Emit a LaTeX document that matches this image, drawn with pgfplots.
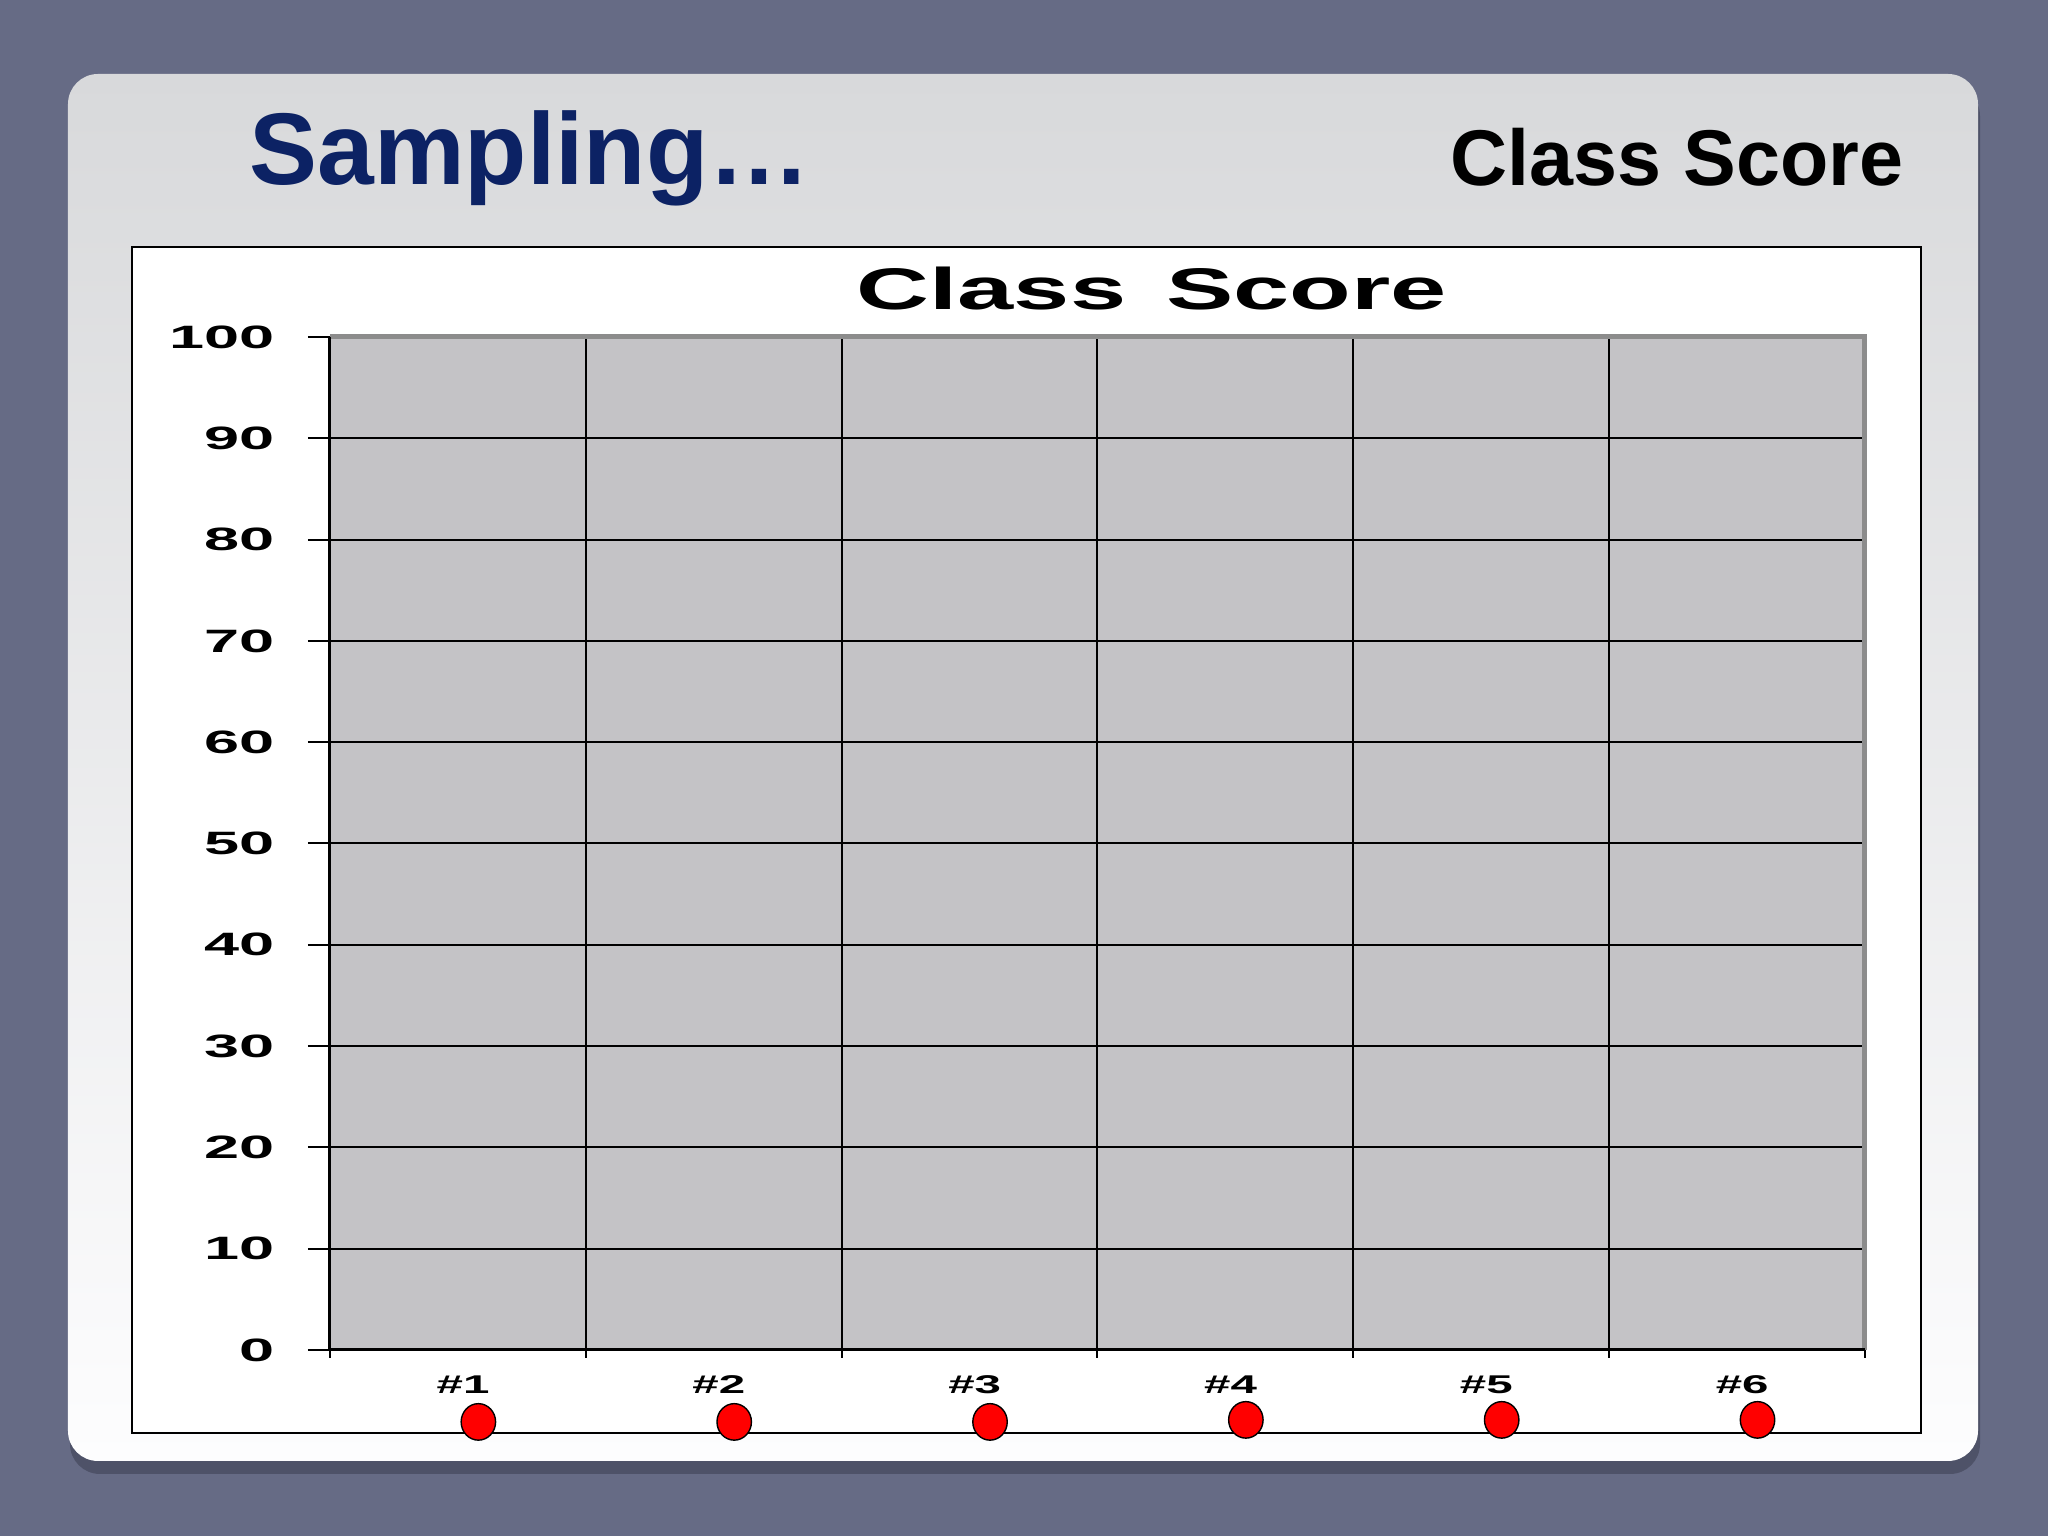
\documentclass[border=0pt]{standalone}
\usepackage{fontspec}
\setmainfont{Liberation Sans}
\usepackage{pgfplots}
\pgfplotsset{compat=1.18}
\definecolor{bgcol}{HTML}{666B85}
\definecolor{shadowcol}{HTML}{4E5268}
\definecolor{paneltop}{HTML}{D8D9DB}
\definecolor{panelbot}{HTML}{FDFDFE}
\definecolor{navy}{HTML}{0C2264}
\definecolor{plotgray}{HTML}{C4C3C6}
\definecolor{bordergray}{HTML}{8C8C8C}
\begin{document}
\begin{tikzpicture}[x=1cm,y=1cm]
\fill[bgcol] (0,0) rectangle (20.48,15.36);
\fill[shadowcol, rounded corners=0.3cm] (0.70,0.62) rectangle (19.80,14.50);
\shade[top color=paneltop, bottom color=panelbot, rounded corners=0.3cm] (0.68,0.75) rectangle (19.78,14.62);
\node[anchor=base west, inner sep=0pt, text=navy, font=\fontsize{29}{34}\selectfont\bfseries] at (2.49,13.51) {Sampling…};
\node[anchor=base east, inner sep=0pt, font=\fontsize{22.5}{27}\selectfont\bfseries] at (19.04,13.50) {Class Score};
\draw[black, line width=0.02cm, fill=white] (1.32,1.03) rectangle (19.21,12.89);
\node[anchor=base, inner sep=0pt, font=\fontsize{16.7}{20}\selectfont\bfseries] at (11.52,12.26) {\scalebox{1.72}[1]{Class\hspace{0.4em}Score}};
\begin{axis}[
  at={(3.30cm,1.86cm)}, anchor=south west,
  scale only axis, width=15.35cm, height=10.13cm,
  xmin=0, xmax=6, ymin=0, ymax=100,
  clip=false,
  axis background/.style={fill=plotgray},
  axis line style={draw=none},
  tick align=outside,
  xtick pos=bottom, ytick pos=left,
  xtick={0.52,1.52,2.52,3.52,4.52,5.52},
  xticklabels={\scalebox{1.85}[1]{\#1},\scalebox{1.85}[1]{\#2},\scalebox{1.85}[1]{\#3},\scalebox{1.85}[1]{\#4},\scalebox{1.85}[1]{\#5},\scalebox{1.85}[1]{\#6}},
  minor xtick={0,1,2,3,4,5,6},
  xminorgrids=true,
  ytick={0,10,...,100},
  ymajorgrids=true,
  major tick length=0.22cm,
  minor tick length=0.08cm,
  major x tick style={draw=none},
  every tick/.style={black, line width=0.02cm},
  grid style={black, line width=0.02cm},
  minor grid style={black, line width=0.02cm},
  yticklabel style={font=\fontsize{9.2}{11}\selectfont\bfseries, anchor=east, inner sep=0pt, xshift=-0.33cm},
  yticklabel={\scalebox{1.95}[1]{\pgfmathprintnumber[assume math mode=true]{\tick}}},
  xticklabel style={font=\fontsize{7.3}{9}\selectfont\bfseries, anchor=north, inner sep=0pt, yshift=-0.03cm},
]
\draw[bordergray, line width=0.05cm] (rel axis cs:0,1) -- (rel axis cs:1,1) -- (rel axis cs:1,0);
\draw[black, line width=0.03cm] (rel axis cs:0,1) -- (rel axis cs:0,0) -- (rel axis cs:1,0);
\addplot[only marks, mark=*, mark size=4.9pt, mark options={fill=red, draw=black, line width=0.4pt, yscale=1.06}]
  coordinates {(0.58,-7.1) (1.58,-7.1) (2.58,-7.1) (3.58,-6.9) (4.58,-6.9) (5.58,-6.9)};
\end{axis}
\end{tikzpicture}
\end{document}
